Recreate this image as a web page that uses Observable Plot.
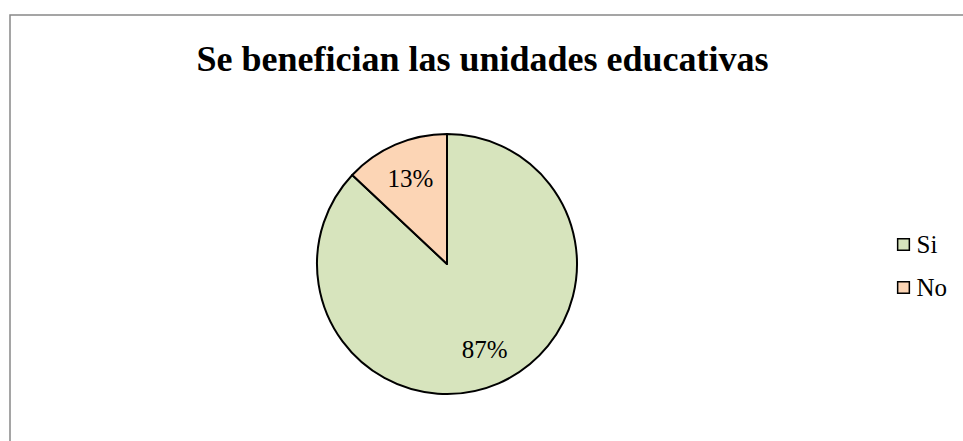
<!DOCTYPE html>
<html>
<head>
<meta charset="utf-8">
<script src="https://cdn.jsdelivr.net/npm/d3@7"></script>
<script src="https://cdn.jsdelivr.net/npm/@observablehq/plot@0.6"></script>
<style>
  html, body { margin: 0; padding: 0; background: #fff; }
  svg { display: block; }
</style>
</head>
<body>
<div id="chart"></div>
<script>
const titleText = "Se benefician las unidades educativas";
const categories = ["Si", "No"];
const percents = [87, 13];
const colors = ["#d7e4bd", "#fcd5b5"];

const W = 963, H = 441;
const layout = {cx: 447, cy: 264, r: 130, labelFrac: 0.72, legendX: 903, legendTextX: 916, legendY0: 244, legendDy: 43};

const data = categories.map((c, i) => ({cat: c, value: percents[i]}));
const arcs = d3.pie().sort(null).value(d => d.value)(data);
const labelArc = d3.arc().innerRadius(layout.r * layout.labelFrac).outerRadius(layout.r * layout.labelFrac);
const labels = arcs.map(a => {
  const [dx, dy] = labelArc.centroid(a);
  return {cat: a.data.cat, text: a.data.value + "%", px: layout.cx + dx, py: layout.cy + dy};
});
const legend = data.map((d, i) => ({cat: d.cat, ly: layout.legendY0 + i * layout.legendDy}));

function pieMark(index, scales) {
  const g = d3.create("svg:g")
    .attr("transform", `translate(${scales.x(layout.cx)},${scales.y(layout.cy)})`);
  const arcGen = d3.arc().innerRadius(0).outerRadius(layout.r);
  g.selectAll("path").data(arcs).join("path")
    .attr("d", arcGen)
    .attr("fill", a => scales.color(a.data.cat))
    .attr("stroke", "#000")
    .attr("stroke-width", 2)
    .attr("stroke-linejoin", "round");
  return g.node();
}

const chart = Plot.plot({
  width: W,
  height: H,
  margin: 0,
  style: {fontFamily: "'Liberation Serif', 'Times New Roman', serif", background: "#fff"},
  x: {domain: [0, W], range: [0, W], axis: null},
  y: {domain: [0, H], range: [0, H], axis: null},
  color: {domain: categories, range: colors},
  marks: [
    Plot.rect([{}], {x1: 10, x2: W + 10, y1: 15, y2: H + 10, fill: "none", stroke: "#888", strokeWidth: 1.5}),
    Plot.text([titleText], {x: 482, y: 59, text: d => d, fontSize: 36, fontWeight: "bold", fill: "#000", lineAnchor: "middle"}),
    pieMark,
    Plot.text(labels, {x: "px", y: "py", text: "text", fontSize: 25, fill: "#000", lineAnchor: "middle"}),
    Plot.dot(legend, {x: layout.legendX, y: "ly", symbol: "square", r: 6.6, fill: "cat", stroke: "#000", strokeWidth: 1.5}),
    Plot.text(legend, {x: layout.legendTextX, y: "ly", text: "cat", fontSize: 25, fill: "#000", textAnchor: "start", lineAnchor: "middle"})
  ]
});
document.getElementById("chart").appendChild(chart);
</script>
</body>
</html>
